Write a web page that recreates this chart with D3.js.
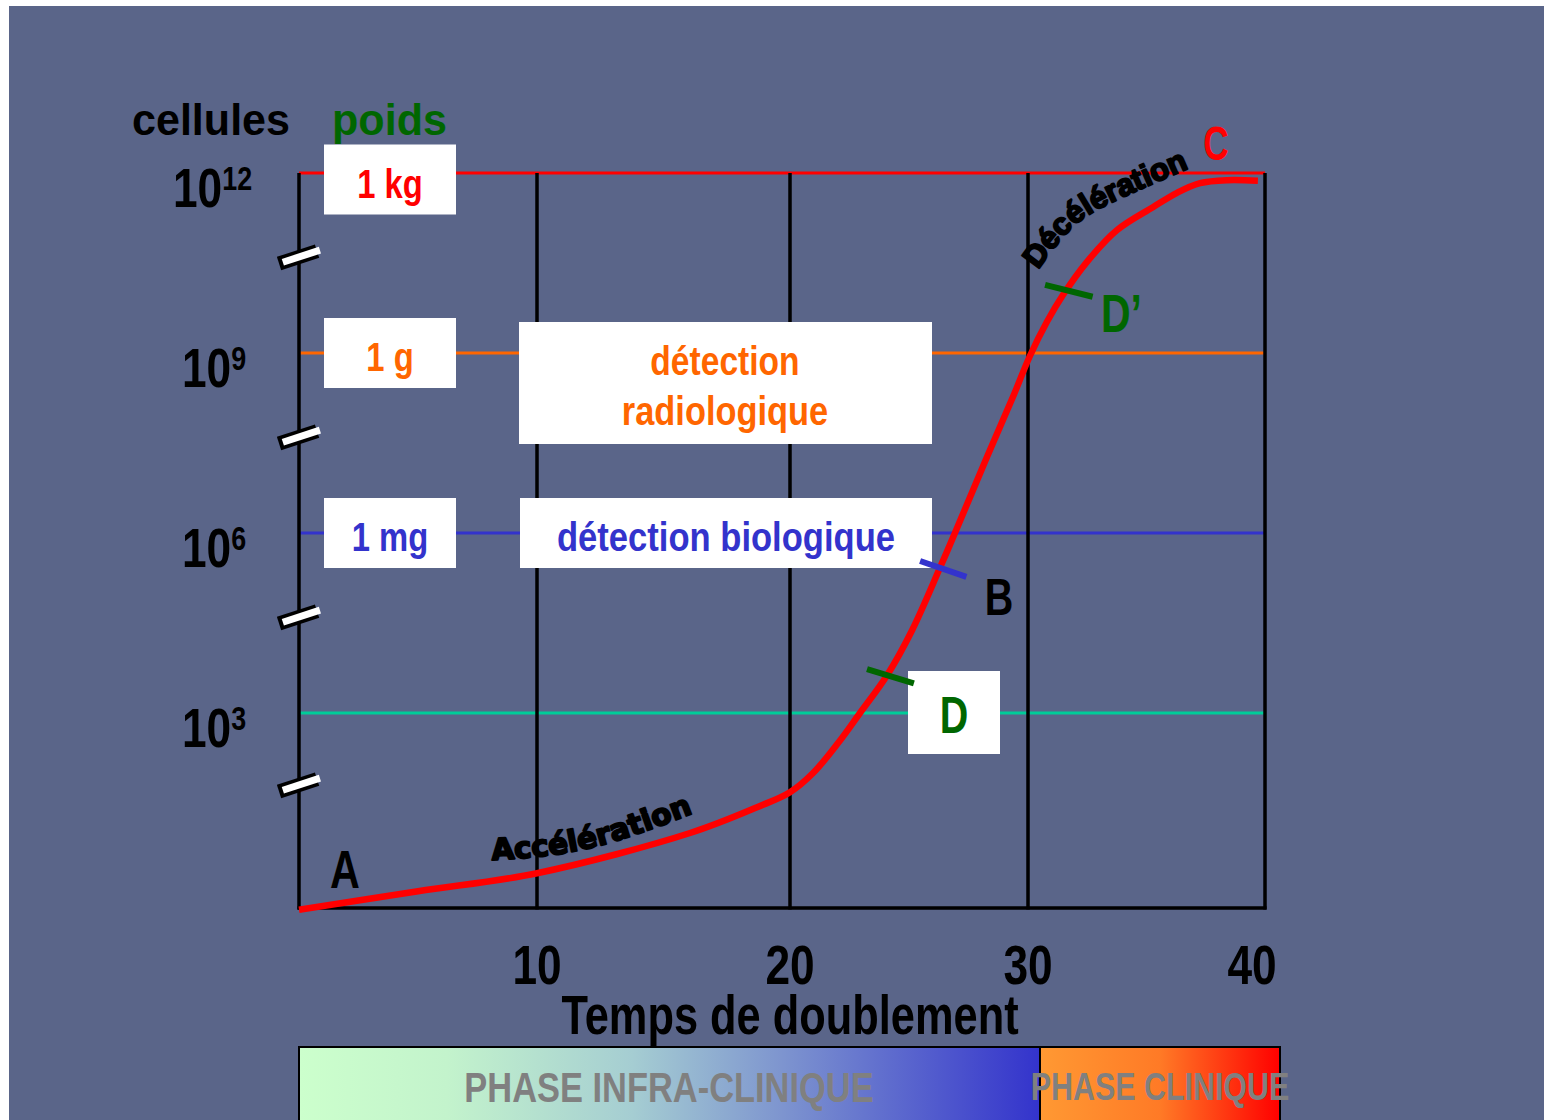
<!DOCTYPE html>
<html>
<head>
<meta charset="utf-8">
<script src="https://cdn.jsdelivr.net/npm/d3@7"></script>
<style>
  html, body { margin: 0; padding: 0; background: #fff; }
  svg { display: block; font-family: "Liberation Sans", Arial, sans-serif; }
</style>
</head>
<body>
<svg id="svg"></svg>
<script>
// temps de doublement (x) et log10(nombre de cellules) (y)
const curveT   = [0, 5, 10, 16.05, 18.7, 20, 20.97, 22.02, 22.94, 24.08, 25.13, 26.3, 26.93, 28.28, 29.37, 30.08, 30.8, 31.48, 32.49, 33.76, 35.27, 36.29, 37.26, 38.4, 39.7];
const curveLog = [-0.28, 0.03, 0.33, 1.0, 1.43, 1.68, 2.0, 2.5, 3.0, 3.63, 4.38, 5.42, 6.0, 7.27, 8.27, 8.95, 9.52, 9.97, 10.52, 11.05, 11.43, 11.67, 11.83, 11.88, 11.87];

const xTicks = [10, 20, 30, 40];
const levelExp = [12, 9, 6, 3];
const levelColors = ["#ff0000", "#ff6600", "#3333cc", "#00cc99"];
const weightLabels = ["1 kg", "1 g", "1 mg"];
const breakExp = [10.6, 7.6, 4.6, 1.8];

// repères sur la courbe
const markNames = ["D", "B", "D\u2019"];
const markT = [24.08, 26.3, 31.58];
const markLog = [3.63, 5.42, 10.05];
const markColors = ["#006600", "#3333cc", "#006600"];

const W = 1544, H = 1120;
const BG = "#5a6589";

const svg = d3.select("#svg").attr("width", W).attr("height", H);

const defs = svg.append("defs");
const g1 = defs.append("linearGradient").attr("id", "gInfra");
[[0, "#ccffcc"], [0.2, "#c3f3cc"], [0.45, "#a5cdd2"], [0.65, "#7e95cf"], [1, "#3333cc"]]
    .forEach(s => g1.append("stop").attr("offset", s[0]).attr("stop-color", s[1]));
const g2 = defs.append("linearGradient").attr("id", "gClin");
[[0, "#ff9933"], [0.5, "#ff7a26"], [1, "#ff0000"]]
    .forEach(s => g2.append("stop").attr("offset", s[0]).attr("stop-color", s[1]));

svg.append("rect").attr("x", 9).attr("y", 6).attr("width", W - 9).attr("height", H - 6).attr("fill", BG);

// echelles
const x = d3.scaleLinear().domain([0, 10, 20, 30, 40]).range([299, 537, 790, 1028, 1265]);
const y = d3.scaleLinear().domain([3, 12]).range([713, 173]);
const yBottom = 908;

// texte "étroit" (Arial Narrow simulé)
function ntext(g, px, py, str, size, sx, color, anchor) {
    return g.append("text")
        .attr("transform", `translate(${px},${py}) scale(${sx},1)`)
        .attr("text-anchor", anchor || "start")
        .attr("font-size", size)
        .attr("font-weight", "bold")
        .attr("fill", color)
        .text(str);
}

const plot = svg.append("g");

// lignes de niveau
levelExp.forEach((e, i) => {
    plot.append("line")
        .attr("x1", x(0)).attr("x2", x(40))
        .attr("y1", y(e)).attr("y2", y(e))
        .attr("stroke", levelColors[i])
        .attr("stroke-width", 3);
});

// grille verticale
xTicks.forEach(t => {
    plot.append("line")
        .attr("x1", x(t)).attr("x2", x(t))
        .attr("y1", y(12)).attr("y2", yBottom + 1.5)
        .attr("stroke", "#000").attr("stroke-width", 3.5);
});
// axes
plot.append("line").attr("x1", x(0)).attr("x2", x(0)).attr("y1", y(12)).attr("y2", yBottom + 1.5)
    .attr("stroke", "#000").attr("stroke-width", 3.5);
plot.append("line").attr("x1", x(0) - 1.5).attr("x2", x(40) + 1.5).attr("y1", yBottom).attr("y2", yBottom)
    .attr("stroke", "#000").attr("stroke-width", 3.5);

// coupures de l'axe
breakExp.forEach(e => {
    const b = plot.append("g").attr("transform", `translate(${x(0)},${y(e)}) rotate(-18)`);
    b.append("rect").attr("x", -21).attr("y", -7).attr("width", 40).attr("height", 14).attr("fill", "#000");
    b.append("rect").attr("x", -17).attr("y", -3.5).attr("width", 39).attr("height", 7).attr("fill", "#fff");
});

// boites blanches des poids
weightLabels.forEach((lab, i) => {
    const cy = levelExp[i] === 12 ? y(12) + 6.5 : y(levelExp[i]);
    plot.append("rect").attr("x", 324).attr("y", cy - 35).attr("width", 132).attr("height", 70).attr("fill", "#fff");
    ntext(plot, 390, cy + 18, lab, 40, 0.82, levelColors[i], "middle");
});

// boites détection
plot.append("rect").attr("x", 519).attr("y", 322).attr("width", 413).attr("height", 122).attr("fill", "#fff");
ntext(plot, 725, 375, "détection", 40, 0.84, "#ff6600", "middle");
ntext(plot, 725, 425, "radiologique", 40, 0.86, "#ff6600", "middle");
plot.append("rect").attr("x", 520).attr("y", y(6) - 35).attr("width", 412).attr("height", 70).attr("fill", "#fff");
ntext(plot, 726, 551, "détection biologique", 40, 0.865, "#3333cc", "middle");

// boite D
plot.append("rect").attr("x", 908).attr("y", 671).attr("width", 92).attr("height", 83).attr("fill", "#fff");

// courbe
const pts = curveT.map((t, i) => [x(t), y(curveLog[i])]);
plot.append("path")
    .attr("d", d3.line().curve(d3.curveCatmullRom.alpha(0.5))(pts))
    .attr("fill", "none")
    .attr("stroke", "#ff0000")
    .attr("stroke-width", 6.5)
    .attr("stroke-linecap", "butt");

// repères D, B, D'
const markAngle = [17, 19, 14];
markT.forEach((t, i) => {
    const a = markAngle[i] * Math.PI / 180;
    const cx = x(t), cy = y(markLog[i]);
    plot.append("line")
        .attr("x1", cx - 21 * Math.cos(a)).attr("y1", cy - 21 * Math.sin(a))
        .attr("x2", cx + 28 * Math.cos(a)).attr("y2", cy + 28 * Math.sin(a))
        .attr("stroke", markColors[i]).attr("stroke-width", 6);
});

// lettres
ntext(plot, 954, 733, markNames[0], 52, 0.76, "#006600", "middle");
ntext(plot, 999, 615, markNames[1], 52, 0.76, "#000", "middle");
ntext(plot, 1101, 332, markNames[2], 54, 0.76, "#006600", "start");
ntext(plot, 1216, 160, "C", 49, 0.72, "#ff0000", "middle");
ntext(plot, 345, 888, "A", 53, 0.78, "#000", "middle");

// textes courbés
const accPath = d3.line().curve(d3.curveNatural)([[492, 860], [590, 848], [702, 810]]);
const decPath = d3.line().curve(d3.curveNatural)([[1038, 270], [1072, 228], [1115, 201], [1185, 170]]);
defs.append("path").attr("id", "accP").attr("d", accPath);
defs.append("path").attr("id", "decP").attr("d", decPath);
plot.append("text")
    .attr("font-family", "DejaVu Sans, sans-serif").attr("font-weight", "bold")
    .attr("font-size", 29.5).attr("fill", "#000").attr("stroke", "#000").attr("stroke-width", 2)
    .attr("stroke-linejoin", "round")
    .append("textPath").attr("href", "#accP").text("Accélération");
plot.append("text")
    .attr("font-weight", "bold")
    .attr("font-size", 31).attr("fill", "#000").attr("stroke", "#000").attr("stroke-width", 2)
    .attr("stroke-linejoin", "round")
    .append("textPath").attr("href", "#decP").text("Décélération");

// étiquettes de l'axe y
levelExp.forEach(e => {
    const x0 = e >= 10 ? 173 : 182;
    const t = svg.append("text")
        .attr("transform", `translate(${x0},${y(e) + 34}) scale(0.79,1)`)
        .attr("font-weight", "bold").attr("fill", "#000");
    t.append("tspan").attr("font-size", 56).text("10");
    t.append("tspan").attr("font-size", 34).attr("dy", -17).text(String(e));
});

// titres
svg.append("text").attr("x", 132).attr("y", 135).attr("font-size", 45).attr("font-weight", "bold")
    .attr("fill", "#000").attr("textLength", 158).attr("lengthAdjust", "spacingAndGlyphs").text("cellules");
svg.append("text").attr("x", 332).attr("y", 135).attr("font-size", 45).attr("font-weight", "bold")
    .attr("fill", "#006600").attr("textLength", 115).attr("lengthAdjust", "spacingAndGlyphs").text("poids");

// axe x
xTicks.forEach(t => {
    ntext(svg, x(t) - (t === 40 ? 13 : 0), 984, String(t), 56, 0.79, "#000", "middle");
});
ntext(svg, 790, 1034, "Temps de doublement", 56, 0.775, "#000", "middle");

// barres des phases
svg.append("rect").attr("x", 299).attr("y", 1047).attr("width", 741).attr("height", 90)
    .attr("fill", "url(#gInfra)").attr("stroke", "#000").attr("stroke-width", 2);
svg.append("rect").attr("x", 1040).attr("y", 1047).attr("width", 240).attr("height", 90)
    .attr("fill", "url(#gClin)").attr("stroke", "#000").attr("stroke-width", 2);
ntext(svg, 669, 1102, "PHASE INFRA-CLINIQUE", 42, 0.82, "#808080", "middle");
ntext(svg, 1160, 1100, "PHASE CLINIQUE", 38, 0.8, "#808080", "middle");
</script>
</body>
</html>
